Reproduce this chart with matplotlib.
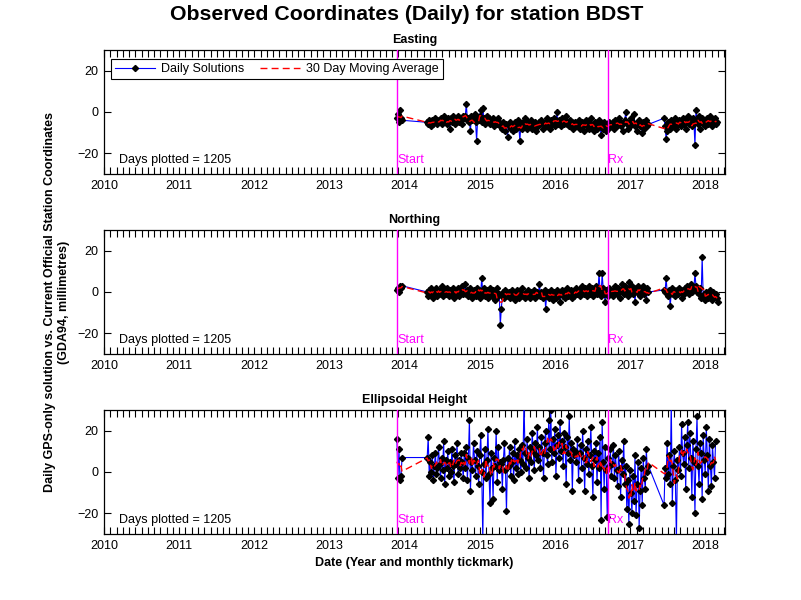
import numpy as np
import pandas as pd
import matplotlib
matplotlib.use("Agg")
import matplotlib.pyplot as plt
from matplotlib.ticker import MultipleLocator, FixedLocator

plt.rcParams['font.family'] = ['Liberation Sans', 'DejaVu Sans']

# ---------------- data ----------------
seg_starts = ["2013-11-24", "2014-04-20", "2017-06-14"]
step_days = 5

east_a = [-3, -1, -5, 1, -3, -4]
east_b = [
    -5,-6,-4,-5,-7,-4,-6,-5,-3,-5,-6,-4,-5,-3,-6,-4,-2,-5,-4,-6,-3,-4,-8,-3,-5,-2,-4,-6,-3,-4,-2,-5,-3,-4,-6,-2,
    -3,-2,4,-4,-3,-5,-9,-2,-4,-3,-1,-5,-14,-3,-4,-2,1,-5,2,-3,-6,-4,-2,-5,-3,-6,-4,-5,-3,-7,-5,-4,-6,-3,-5,-7,
    -6,-8,-5,-7,-9,-6,-12,-7,-5,-8,-6,-9,-7,-5,-8,-6,-4,-7,-14,-6,-8,-5,-7,-3,-6,-8,-5,-7,-6,-4,-8,-6,-7,-5,-9,-6,
    -7,-5,-6,-4,-8,-6,-5,-7,-3,-6,-5,-8,-4,-6,-5,-3,-7,-5,0,-6,-4,-5,-7,-3,-5,-6,-4,-2,-6,-5,-7,-4,-6,-5,-8,-6,
    -5,-7,-6,-4,-8,-6,-5,-7,-9,-6,-4,-7,-5,-8,-6,-3,-7,-6,-9,-5,-7,-8,-6,-4,-7,-11,-6,-8,-5,-7,-9,-6,-8,-5,-7,-6,
    -6,-5,-8,-4,-7,-6,-3,-5,-7,-6,-9,-5,-4,0,-6,-8,-5,-7,-3,-6,-5,-1,-7,-6,-9,-5,-4,-7,-6,-10,-5,-8,-6,-4,-7,-6]
east_c = [-3,-7,-13,-9,-5,-6,-8,-4,-7,-5,-6,-3,-8,-5,-6,-4,-7,-5,-3,-6,-4,-8,-5,-2,-6,-4,-5,-7,-3,-5,-16,1,
          -4,-6,-2,-8,-5,-3,-6,-4,-7,-5,-3,-6,-4,-2,-5,-7,-4,-3,-6,-5]

north_a = [1, 2, 0, 3, 2, 3]
north_b = [
    0,-2,1,-1,2,0,-3,1,-1,2,-2,0,1,-1,3,-2,0,1,-1,2,0,-2,1,-1,0,2,-3,1,0,-1,2,-2,1,0,3,-1,
    0,4,-1,1,-2,0,2,-1,-3,1,0,-2,2,-1,1,-3,0,7,-1,2,-2,0,1,-3,-1,2,0,-2,1,-1,-4,0,2,-2,-1,-16,
    -8,-2,0,-3,1,-1,-2,0,-3,-1,1,-2,0,-4,-1,1,-2,-3,0,-1,2,-2,-1,-3,0,-2,1,-1,-3,0,-2,-1,1,-3,-2,0,
    -1,4,-2,0,-3,-1,1,-8,-2,0,-3,-1,1,-2,-4,0,-1,-3,1,-2,0,-5,-1,1,-2,0,-3,-1,2,-2,0,-1,1,-3,0,-2,
    0,2,-1,1,-2,0,3,1,-1,2,0,-2,1,3,-1,0,2,-2,1,0,3,-1,1,9,0,-2,9,2,-1,-5,1,0,-2,2,-1,1,
    0,-2,1,3,-1,2,0,-3,1,4,2,-1,3,0,1,-2,5,2,0,3,-1,1,-5,2,0,3,1,-2,2,0,3,-1,1,-4,2,0]
north_c = [1,0,7,0,-2,1,-7,0,2,-1,1,-2,0,1,-1,2,0,-3,1,-1,2,0,3,1,-1,2,4,0,1,2,9,3,0,1,-1,2,-3,17,
           -2,-1,-4,0,-2,-3,-1,1,-2,-4,0,-2,-1,-3,-5]

up_a = [16, -3, 11, -4, -2, 7]
up_b = [
    7,17,-2,5,0,8,-4,3,9,-1,2,12,4,-3,7,1,15,-6,6,2,10,-2,5,0,11,3,-5,8,4,14,-1,6,2,9,5,-3,
    9,2,12,-4,7,25,-9,5,1,14,6,-2,10,3,-6,8,18,0,-33,4,11,-3,6,21,-1,-15,9,2,-13,7,3,20,-5,12,1,5,
    4,-8,6,14,1,-19,7,3,12,-2,5,9,-4,15,2,8,-1,11,6,0,13,4,35,9,2,16,7,-3,12,5,19,10,1,14,8,22,
    6,12,2,17,9,-3,14,20,8,4,25,11,30,5,16,9,21,-2,13,18,7,24,10,15,3,19,12,-6,17,9,27,6,14,-9,11,8,
    10,5,16,-4,9,13,2,20,7,-9,11,4,15,-1,8,22,3,-12,10,6,14,-5,9,2,17,-23,24,5,-8,12,1,-22,7,3,11,-2,
    4,13,-3,8,1,-7,10,2,-12,6,-1,15,-6,3,-18,-4,-25,1,-10,-20,-2,-14,8,-21,-6,5,-27,-9,2,-16,7,-3,-8,11,0,3]
up_c = [-16,2,-3,14,-1,8,-6,35,-15,3,10,-4,-33,6,1,12,-2,23,9,4,17,-8,13,24,2,19,7,-12,15,5,-20,
        11,27,3,-6,14,9,-13,18,6,-1,22,8,-9,16,3,-7,13,5,-3,15]

titles = ["Easting", "Northing", "Ellipsoidal Height"]
series = [(east_a, east_b, east_c), (north_a, north_b, north_c), (up_a, up_b, up_c)]
start_date = 2013.896
rx_date = 2016.70
days_plotted = 1205


def build(segs):
    dates, vals = [], []
    for s0, seg in zip(seg_starts, segs):
        d = pd.date_range(s0, periods=len(seg), freq=f"{step_days}D")
        dates.extend(d)
        vals.extend(seg)
    idx = pd.DatetimeIndex(dates)
    s = pd.Series(np.array(vals, dtype=float), index=idx)
    ma = s.rolling("30D", center=True).mean()
    ndays = np.where(idx.is_leap_year, 366.0, 365.0)
    dec = idx.year + (idx.dayofyear - 1) / ndays
    return np.asarray(dec), s.values, ma.values


fig = plt.figure(figsize=(8.01, 6.00), dpi=100)
W, H = 801.0, 600.0
left, right = 104, 725
tops = [50, 230, 410]
ah = 124

for i, (ttl, segs) in enumerate(zip(titles, series)):
    top = tops[i]
    ax = fig.add_axes([left / W, (H - top - ah) / H, (right - left) / W, ah / H])
    x, y, ma = build(segs)
    ax.plot(x, y, color='blue', lw=0.8, marker='D', ms=3.1, mfc='black', mec='black',
            label='Daily Solutions', zorder=3)
    ax.plot(x, ma, color='red', lw=1.0, ls=(0, (5, 3)), label='30 Day Moving Average', zorder=4)
    ax.axvline(start_date, color='magenta', lw=1.0, zorder=5)
    ax.axvline(rx_date, color='magenta', lw=1.0, zorder=5)
    ax.text(start_date + 0.005, -23.3, "Start", color='magenta', fontsize=9, va='center', ha='left')
    ax.text(rx_date + 0.005, -23.3, "Rx", color='magenta', fontsize=9, va='center', ha='left')
    ax.text(2010.2, -23.3, f"Days plotted = {days_plotted}", fontsize=9, va='center', ha='left')
    ax.set_xlim(2010.0, 2018.26)
    ax.set_ylim(-30, 30)
    ax.xaxis.set_major_locator(FixedLocator(np.arange(2010, 2019)))
    ax.xaxis.set_minor_locator(MultipleLocator(1 / 12))
    ax.yaxis.set_major_locator(FixedLocator([-20, 0, 20]))
    ax.set_xticklabels([str(v) for v in range(2010, 2019)])
    ax.tick_params(which='both', direction='in', top=True, right=True, length=5, width=0.8,
                   labelsize=9, pad=4)
    for sp in ax.spines.values():
        sp.set_linewidth(0.9)
    ax.set_title(ttl, fontsize=9, fontweight='bold', pad=5)
    if i == 0:
        leg = ax.legend(loc='upper left', bbox_to_anchor=(0.011, 0.93), ncol=2, fontsize=9,
                        frameon=True, fancybox=False, framealpha=1, edgecolor='black',
                        handlelength=3.2, columnspacing=1.2, borderpad=0.35, handletextpad=0.5,
                        borderaxespad=0)
        leg.get_frame().set_linewidth(0.8)
    if i == 2:
        ax.set_xlabel("Date (Year and monthly tickmark)", fontsize=9, fontweight='bold', labelpad=4)

fig.text(0.5075, 1 - 15 / H, "Observed Coordinates (Daily) for station BDST", ha='center', va='center',
         fontsize=15.3, fontweight='bold')
fig.text(57 / W, 1 - 302 / H,
         "Daily GPS-only solution vs. Current Official Station Coordinates\n(GDA94, millimetres)",
         rotation=90, ha='center', va='center', fontsize=9, fontweight='bold', multialignment='center',
         linespacing=1.3)

fig.savefig("out.png", dpi=100)
